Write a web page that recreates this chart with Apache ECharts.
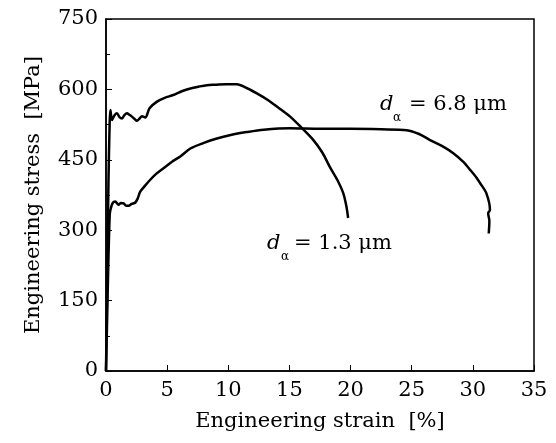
<!DOCTYPE html>
<html>
<head>
<meta charset="utf-8">
<script src="https://cdn.jsdelivr.net/npm/echarts@6/dist/echarts.min.js"></script>
<style>
html, body { margin: 0; padding: 0; background: #fff; }
#main { width: 556px; height: 443px; }
</style>
</head>
<body>
<div id="main"></div>
<script>
// d_alpha = 1.3 um
var strain13 = [0, 0.1, 0.2, 0.3, 0.36, 0.49, 0.7, 0.9, 1.1, 1.31, 1.5, 1.72, 1.9, 2.12, 2.3, 2.53, 2.75, 2.94, 3.21, 3.56, 4.17, 4.8, 5.5, 6.2, 6.9, 7.6, 8.25, 9.0, 9.8, 10.7, 11.5, 12.3, 13.2, 14.0, 15.06, 16.0, 16.96, 17.7, 18.3, 18.9, 19.4, 19.65, 19.8];
var stress13 = [0, 200, 400, 530, 556, 535, 545, 549, 541, 538, 545, 549, 546, 542, 538, 533, 538, 543, 540, 560, 574, 582, 588, 596, 602, 606, 609, 610, 611, 611, 603, 592, 578, 563, 542, 518, 492, 465, 435, 408, 379, 352, 326];

// d_alpha = 6.8 um
var strain68 = [0, 0.1, 0.2, 0.3, 0.36, 0.55, 0.76, 1.03, 1.2, 1.44, 1.65, 1.85, 2.1, 2.4, 2.6, 2.8, 3.2, 3.6, 4.1, 4.7, 5.4, 6.07, 6.9, 8.0, 9.0, 10.2, 11.5, 12.9, 15.06, 17.5, 20.0, 22.5, 24.6, 25.6, 26.5, 27.5, 28.4, 29.2, 29.8, 30.3, 30.6, 31.1, 31.4, 31.25, 31.35, 31.3];
var stress68 = [0, 120, 240, 330, 343, 358, 361, 354, 358, 357, 352, 352, 356, 359, 368, 382, 395, 407, 420, 432, 446, 457, 474, 486, 495, 503, 509, 514, 517, 516, 516, 515, 513, 505, 492, 479, 464, 446, 428, 412, 400, 379, 343, 336, 320, 293];

var xTicks = [0, 5, 10, 15, 20, 25, 30, 35];
var yTicks = [0, 150, 300, 450, 600, 750];

function pairs(xs, ys) {
	var out = [];
	for (var i = 0; i < xs.length; i++) {
		out.push([xs[i], ys[i]]);
	}
	return out;
}

var FONT = '"DejaVu Serif", "Liberation Serif", serif';

var chart = echarts.init(document.getElementById('main'));

var option = {
	animation: false,
	backgroundColor: '#fff',
	grid: {
		left: 106,
		right: 22,
		top: 19,
		bottom: 72,
		show: true,
		borderColor: '#000',
		borderWidth: 1.5
	},
	xAxis: {
		type: 'value',
		min: xTicks[0],
		max: xTicks[xTicks.length - 1],
		interval: 5,
		name: 'Engineering strain  [%]',
		nameLocation: 'middle',
		nameGap: 40,
		nameTextStyle: { fontFamily: FONT, fontSize: 21, color: '#000' },
		axisLine: { show: true, onZero: false, lineStyle: { color: '#000', width: 1.5 } },
		axisTick: { show: true, inside: true, length: 6, lineStyle: { color: '#000' } },
		axisLabel: { fontFamily: FONT, fontSize: 21, color: '#000', margin: 9 },
		splitLine: { show: false }
	},
	yAxis: {
		type: 'value',
		min: yTicks[0],
		max: yTicks[yTicks.length - 1],
		interval: 150,
		name: 'Engineering stress  [MPa]',
		nameLocation: 'middle',
		nameGap: 62,
		nameTextStyle: { fontFamily: FONT, fontSize: 21, color: '#000' },
		axisLine: { show: true, onZero: false, lineStyle: { color: '#000', width: 1.5 } },
		axisTick: { show: true, inside: true, length: 6, lineStyle: { color: '#000' } },
		minorTick: { show: true, splitNumber: 2, length: 4, lineStyle: { color: '#000' } },
		axisLabel: { fontFamily: FONT, fontSize: 21, color: '#000', margin: 8 },
		splitLine: { show: false }
	},
	series: [
		{
			name: 'd = 1.3 um',
			type: 'line',
			showSymbol: false,
			smooth: 0.3,
			lineStyle: { color: '#000', width: 2.5 },
			data: pairs(strain13, stress13)
		},
		{
			name: 'd = 6.8 um',
			type: 'line',
			showSymbol: false,
			smooth: 0.3,
			lineStyle: { color: '#000', width: 2.5 },
			data: pairs(strain68, stress68)
		}
	],
	graphic: [
		{ type: 'text', left: 380, top: 94, style: { text: 'd', font: 'italic 21px ' + FONT, fill: '#000' } },
		{ type: 'text', left: 393, top: 112, style: { text: 'α', font: '12px ' + FONT, fill: '#000' } },
		{ type: 'text', left: 409, top: 94, style: { text: '= 6.8 μm', font: '21px ' + FONT, fill: '#000' } },
		{ type: 'text', left: 267, top: 233, style: { text: 'd', font: 'italic 21px ' + FONT, fill: '#000' } },
		{ type: 'text', left: 281, top: 251, style: { text: 'α', font: '12px ' + FONT, fill: '#000' } },
		{ type: 'text', left: 294, top: 233, style: { text: '= 1.3 μm', font: '21px ' + FONT, fill: '#000' } }
	]
};

chart.setOption(option);
</script>
</body>
</html>
